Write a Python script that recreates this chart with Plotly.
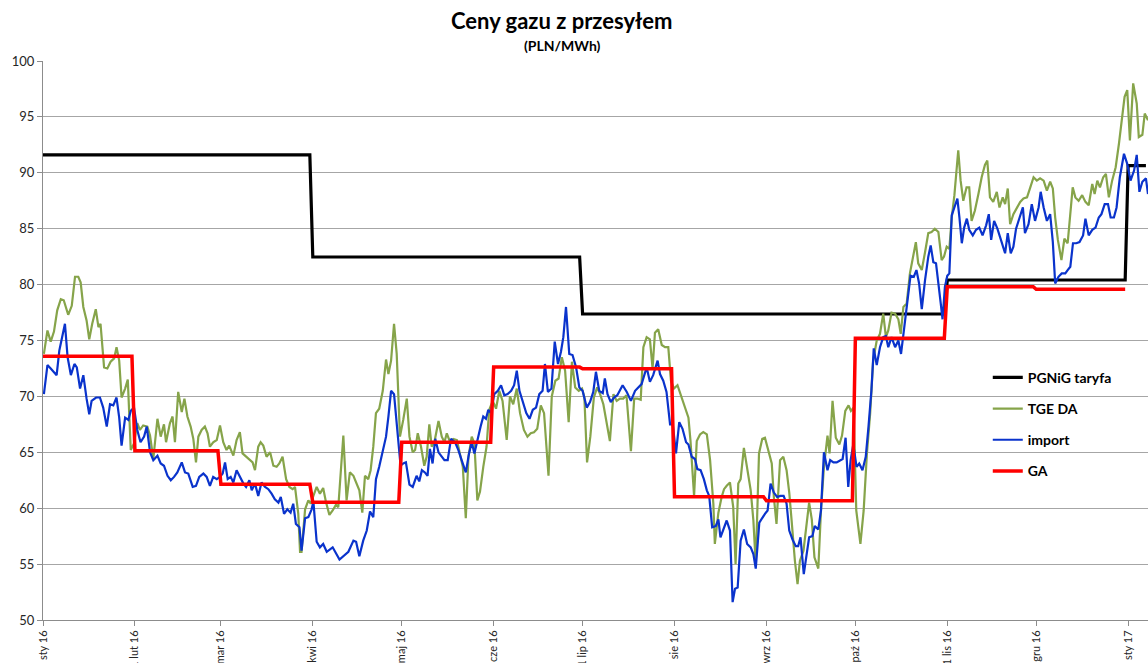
import numpy as np
import pandas as pd
import plotly.graph_objects as go

BASE = pd.Timestamp("2016-01-01")

# ---- month ticks ----
tick_dates = ["2016-01-01", "2016-02-01", "2016-03-01", "2016-04-01", "2016-05-01", "2016-06-01",
              "2016-07-01", "2016-08-01", "2016-09-01", "2016-10-01", "2016-11-01", "2016-12-01",
              "2017-01-01"]
tick_labels = ["1 sty 16", "1 lut 16", "1 mar 16", "1 kwi 16", "1 maj 16", "1 cze 16",
               "1 lip 16", "1 sie 16", "1 wrz 16", "1 paź 16", "1 lis 16", "1 gru 16",
               "1 sty 17"]

# ---- step series (period start = day offset from 1 Jan 2016) ----
pgnig_start = [0, 91, 182, 305, 366]
pgnig_val = [91.6, 82.47, 77.37, 80.41, 90.64]
pgnig_last_day = 372

ga_start = [0, 31, 60, 91, 121, 152, 182, 213, 244, 274, 305, 335]
ga_val = [73.6, 65.14, 62.14, 60.53, 65.9, 72.62, 72.47, 61.03, 60.67, 75.2, 79.81, 79.58]
ga_last_day = 365

# ---- daily series (day offset, value) ----
tge_day = [0.3, 1.5, 2.6, 3.7, 4.8, 6.0, 7.0, 8.5, 9.7, 10.8, 11.9, 12.7, 13.6, 14.7, 15.6, 16.6, 17.8,
           18.7, 19.4, 20.6, 21.7, 22.8, 24.0, 24.8, 25.7, 26.5, 27.7, 28.6, 29.6, 30.7, 31.8, 32.7,
           33.8, 35.2, 36.1, 37.2, 38.6, 39.7, 40.8, 41.5, 42.8, 43.7, 44.5, 45.6, 46.8, 47.7, 48.7,
           49.8, 50.7, 51.6, 52.4, 53.5, 54.6, 55.5, 56.3, 57.4, 58.6, 59.7, 60.8, 61.9, 62.8, 64.2,
           65.3, 66.4, 67.3, 68.5, 69.6, 70.7, 71.5, 72.6, 73.4, 74.3, 75.4, 76.6, 77.7, 78.8, 79.7,
           80.8, 82.0, 83.1, 84.2, 85.0, 86.1, 86.7, 87.2, 88.4, 89.5, 90.3, 91.2, 92.3,
           93.4, 94.5, 95.4, 96.6, 97.7, 98.8, 99.6, 101.3, 102.4, 103.5, 104.7, 105.8, 106.7, 107.7,
           108.6, 109.7, 110.5, 111.4, 112.3, 113.4, 114.6, 115.7, 116.5, 117.4, 118.4, 119.3, 120.4,
           121.5, 122.7, 123.6, 124.7, 125.5, 126.4, 127.5, 128.6, 129.4, 130.3, 131.1, 132.0, 133.4,
           134.5, 135.4, 136.2, 137.3, 138.4, 139.6, 140.7, 141.6, 142.6, 143.5, 144.6, 145.5, 146.5,
           147.4, 148.5, 149.6, 150.5, 151.7, 152.8, 153.9, 155.0, 156.4, 157.5, 158.6, 159.8, 160.9,
           162.2, 163.4, 164.5, 165.6, 166.7, 167.9, 169.0, 170.5, 171.6, 172.8, 173.9, 175.0, 176.1,
           177.3, 178.4, 179.5, 180.7, 181.8, 182.6, 183.5, 184.6, 185.8, 186.9,
           187.9, 189.0, 190.1, 191.2, 192.4, 193.5, 194.6, 195.7, 196.8, 198.3, 199.4, 200.6, 201.6,
           202.5, 203.6, 204.7, 205.6, 206.4, 207.5, 208.7, 209.8, 210.9, 211.8, 212.8, 214.0, 215.1,
           216.2, 217.7, 218.4, 219.6, 220.5, 221.6, 222.7, 223.9, 225.0, 226.1, 226.6, 227.8, 228.9,
           229.7, 230.6, 231.7, 232.8, 233.6, 234.5, 235.3, 236.4, 237.5, 238.7, 239.6, 240.4, 241.5,
           242.6, 243.5, 244.6, 245.8, 246.5, 247.4, 248.6, 249.7, 250.8, 251.7, 252.5, 253.6, 254.5,
           255.3, 256.5, 257.4, 258.4, 259.3, 260.2, 261.5, 262.4, 263.4, 264.6, 265.3, 266.3, 267.4,
           268.6, 269.5, 270.6, 271.7, 272.5, 273.4, 274.3, 275.7, 276.8, 277.9, 279.0,
           280.0, 281.2, 282.3, 283.4, 284.3, 285.1, 286.2, 287.4, 288.5, 289.3, 290.2, 291.3, 292.4,
           293.6, 294.4, 295.2, 296.4, 297.5, 298.6, 299.7, 300.8, 302.0, 303.1, 303.9, 304.8, 305.7,
           306.5, 307.4, 308.7, 309.5, 310.4, 311.5, 312.4, 313.2, 314.3, 315.5, 316.6, 317.7, 318.5,
           319.4, 320.5, 321.7, 322.6, 323.7, 324.5, 325.4, 326.2, 327.3, 328.5, 329.6, 330.7, 331.9,
           333.0, 334.1, 335.2, 336.3, 337.5, 338.6, 339.7, 340.6, 341.4, 342.3, 343.5, 344.5, 345.6,
           346.5, 347.3, 348.2, 349.3, 350.5, 351.6, 352.7, 353.9, 354.7, 355.6, 356.5, 357.6, 358.5,
           359.5, 360.6, 361.8, 362.9, 364.0, 364.8, 365.7, 366.6, 367.7, 368.9, 369.6, 370.8, 371.6,
           372.7]
tge_val = [73.8, 75.9, 74.9, 75.8, 77.7, 78.7, 78.6, 77.3, 78.1, 80.7, 80.7, 80.2, 78.0, 76.8, 75.1, 76.5, 77.8,
           76.2, 76.5, 72.6, 72.5, 73.1, 73.4, 74.4, 73.2, 69.9, 70.7, 71.5, 65.2, 65.8, 67.6, 67.0,
           67.4, 67.3, 66.5, 64.4, 68.0, 66.4, 67.5, 65.9, 67.6, 68.2, 65.9, 70.4, 68.6, 69.8, 68.2,
           67.3, 66.2, 64.1, 66.4, 67.0, 67.3, 66.7, 65.5, 65.9, 66.1, 67.4, 65.9, 65.2, 65.6, 64.7,
           66.1, 66.8, 64.9, 64.6, 64.4, 64.1, 63.4, 65.5, 65.9, 65.6, 64.6, 65.0, 63.8, 63.7, 64.0,
           64.6, 62.6, 61.9, 61.7, 61.9, 59.5, 56.1, 56.1, 59.9, 60.7, 60.4, 61.1, 61.9,
           61.3, 61.8, 60.6, 59.4, 59.8, 60.3, 60.1, 66.5, 60.7, 63.2, 62.9, 62.2, 61.6, 59.6,
           62.9, 62.6, 63.4, 65.5, 68.5, 68.9, 70.5, 73.3, 72.0, 73.2, 76.5, 73.8, 66.4,
           67.9, 69.8, 66.4, 65.0, 65.2, 66.7, 65.5, 63.8, 64.6, 67.5, 65.5, 65.9, 67.8,
           66.4, 65.9, 66.7, 65.9, 66.2, 66.1, 64.9, 63.7, 59.1, 64.6, 66.4, 65.8, 60.7,
           61.5, 63.7, 65.5, 68.8, 69.6, 68.9, 70.5, 69.6, 66.1, 70.0, 69.3, 70.7, 68.5,
           67.0, 66.4, 66.7, 66.8, 67.1, 69.2, 68.5, 62.9, 70.0, 71.4, 71.6, 73.5, 72.3,
           67.7, 73.1, 70.8, 70.5, 70.7, 69.9, 64.1, 66.4, 69.9, 70.8,
           70.2, 69.3, 67.8, 66.0, 70.2, 69.6, 69.8, 69.8, 70.1, 65.1, 69.8, 69.8, 69.7,
           74.4, 75.3, 75.1, 72.5, 75.7, 76.0, 74.6, 74.4, 74.4, 71.4, 70.7, 71.0, 70.1,
           69.3, 68.1, 66.0, 61.1, 66.0, 66.6, 66.8, 66.6, 64.3, 60.4, 56.8, 59.6, 61.0,
           61.7, 62.0, 62.3, 60.1, 55.0, 62.2, 62.6, 65.4, 63.7, 61.6, 58.9, 55.0, 64.9,
           66.2, 66.3, 65.1, 64.0, 61.0, 58.6, 64.3, 64.6, 63.4, 61.4, 58.9, 55.3, 53.2,
           55.3, 56.2, 58.3, 60.5, 59.0, 55.6, 54.6, 59.8, 63.7, 66.5, 64.9, 69.6, 66.3,
           65.7, 66.5, 68.7, 69.2, 68.7, 69.0, 59.8, 56.8, 59.8, 64.9, 68.5,
           73.2, 75.0, 75.6, 77.4, 75.3, 75.9, 77.5, 77.4, 76.9, 75.6, 78.0, 78.3, 81.0,
           82.8, 83.8, 81.9, 81.3, 82.9, 84.6, 84.7, 85.0, 84.7, 82.2, 82.5, 83.4, 83.2,
           86.0, 88.0, 92.0, 89.3, 87.5, 88.7, 88.7, 85.7, 86.6, 88.1, 89.6, 90.7, 91.1,
           87.8, 87.4, 88.3, 86.9, 87.8, 87.2, 88.6, 85.4, 86.3, 86.9, 87.4, 87.7, 87.8,
           88.7, 89.6, 89.3, 89.5, 89.3, 88.4, 89.2, 88.6, 86.0, 84.0, 82.2, 84.1, 83.7,
           86.6, 88.7, 87.8, 87.5, 88.0, 87.4, 87.1, 89.0, 88.1, 89.3, 88.7, 89.6, 89.9,
           87.8, 89.3, 90.5, 92.6, 95.0, 96.8, 97.4, 92.9, 98.0, 96.2, 93.2, 93.4, 95.3,
           94.7]

import_day = [0.3, 1.5, 2.6, 3.7, 4.6, 5.5, 6.5, 7.4, 8.3, 9.4, 10.6, 11.4, 12.5, 13.6, 14.7, 15.6, 16.4,
              17.9, 19.2, 20.3, 21.5, 22.6, 23.7, 24.8, 25.7, 26.5, 27.7, 28.8, 29.6, 30.7, 31.8, 32.9,
              34.1, 35.0, 36.1, 37.2, 38.6, 39.7, 40.8, 42.0, 43.1, 44.2, 45.3, 46.8, 47.9, 49.0, 50.5,
              51.6, 52.7, 54.1, 55.2, 56.3, 57.4, 58.6, 59.7, 60.6, 61.4, 62.3, 63.3, 64.2, 65.3, 66.4,
              67.6, 68.5, 69.6, 70.4, 71.5, 72.6, 73.7, 74.9, 76.0, 77.1, 78.2, 79.4, 80.2, 81.3, 82.4,
              83.5, 84.4, 85.3, 86.5, 87.2, 88.4, 89.5, 90.6, 91.2, 92.3, 93.4, 94.5, 95.7, 97.7, 100.0,
              101.3, 103.0, 104.7, 105.6, 106.7, 108.0, 109.2, 110.3, 111.4, 112.3, 113.4, 114.6, 115.7,
              116.5, 117.4, 118.4, 119.5, 120.6, 121.5, 122.4, 123.6, 124.7, 126.0, 126.9, 127.8, 128.8,
              129.7, 130.5, 131.4, 132.3, 133.4, 134.4, 135.4, 136.5, 137.6, 139.0, 140.1, 141.2, 142.6,
              143.7, 144.6, 145.5, 146.5, 147.6, 148.5, 149.4, 150.2, 151.1, 152.2, 153.4, 154.5, 155.6,
              156.7, 157.9, 158.9, 159.8, 160.7, 161.8, 163.0, 164.1, 165.2, 166.3, 167.4, 168.5, 169.3,
              170.3, 171.5, 172.6, 173.7, 174.7, 175.5, 176.4, 177.5, 178.6, 179.8, 180.9, 182.0, 183.4,
              184.5, 185.6, 186.5, 187.6, 188.8, 189.5, 190.4, 191.5, 192.6, 193.7, 195.5, 196.9, 198.3,
              199.7, 200.8, 201.9, 203.6, 204.7, 205.8, 207.3, 208.1, 209.2, 210.3, 211.5, 212.4, 213.5,
              214.6, 215.7, 216.9, 217.7, 218.8, 219.9, 220.7, 221.8, 222.9, 223.9, 224.7, 225.7, 226.9,
              227.8, 228.5, 229.5, 230.6, 231.7, 232.6, 233.4, 234.3, 235.3, 236.4, 237.5, 238.7, 239.6,
              240.4, 241.6, 242.7, 243.5, 244.4, 245.4, 246.5, 247.6, 248.7, 249.8, 250.8, 251.7, 252.8,
              253.9, 254.7, 255.5, 256.6, 257.5, 258.4, 259.5, 260.3, 261.5, 262.4, 263.4, 264.6, 265.5,
              266.6, 267.7, 268.8, 269.7, 270.7, 271.6, 272.4, 273.3, 274.4, 275.3, 276.4, 277.5, 278.4,
              279.4, 280.2, 281.2, 282.3, 283.4, 284.3, 285.1, 286.2, 287.4, 288.5, 289.4, 290.5, 291.5,
              292.6, 293.7, 294.6, 295.5, 296.4, 297.5, 298.6, 299.4, 300.3, 301.2, 302.1, 302.8, 303.4,
              304.2, 305.0, 305.7, 306.5, 307.4, 308.4, 309.1, 309.9, 310.7, 311.6, 312.4, 313.6, 314.7,
              315.8, 316.9, 318.1, 319.0, 319.8, 320.8, 321.9, 323.1, 324.5, 325.4, 326.4, 327.3, 328.2,
              329.4, 330.5, 331.2, 332.4, 333.5, 334.6, 335.8, 336.5, 337.5, 338.6, 339.7, 340.6, 341.4,
              342.5, 343.6, 344.8, 345.6, 346.5, 347.4, 348.5, 349.6, 350.8, 351.6, 352.7, 353.9, 355.0,
              356.1, 357.0, 358.1, 359.2, 360.1, 361.2, 362.1, 363.2, 364.6, 365.7, 366.8, 368.0, 368.9,
              369.8, 370.8, 372.0, 372.7]
import_val = [70.2, 72.8, 72.5, 72.2, 71.9, 74.1, 75.3, 76.5, 73.5, 71.9, 72.9, 72.6, 70.7, 71.9, 69.8, 68.4, 69.6,
              69.9, 69.9, 69.0, 67.3, 69.3, 69.2, 69.9, 68.1, 65.6, 68.1, 67.9, 68.7, 69.0, 67.0, 65.9,
              66.4, 67.3, 65.0, 64.3, 64.7, 64.0, 63.8, 62.9, 62.5, 62.8, 63.2, 64.1, 63.2, 63.1, 61.9,
              62.0, 62.8, 63.1, 62.8, 62.0, 62.8, 62.6, 62.8, 63.1, 64.1, 62.6, 62.8, 62.3, 63.4, 62.8,
              62.2, 61.9, 62.5, 61.6, 62.2, 61.1, 62.3, 61.9, 61.7, 61.3, 60.8, 60.5, 61.0, 59.5, 59.9,
              59.6, 60.4, 58.6, 58.3, 56.2, 59.1, 59.2, 59.9, 60.6, 57.0, 56.5, 56.8, 56.1, 56.5, 55.4,
              55.7, 56.1, 57.1, 57.0, 55.7, 57.1, 58.0, 59.7, 59.2, 62.6, 63.7, 65.2, 66.4,
              68.2, 70.5, 70.2, 67.0, 63.8, 64.0, 64.1, 62.1, 61.9, 62.9, 62.4, 63.4, 63.2,
              62.9, 65.3, 64.0, 66.2, 65.0, 64.6, 64.3, 64.3, 66.2, 65.9, 65.2, 64.3, 63.2,
              64.9, 65.9, 64.9, 66.2, 67.3, 68.2, 68.0, 68.8, 68.5, 70.2, 70.5, 71.0, 70.1,
              70.2, 70.5, 71.0, 72.3, 70.5, 69.6, 68.5, 68.0, 68.8, 69.0, 70.2, 70.5, 72.9,
              70.4, 70.7, 74.9, 72.9, 74.0, 75.3, 78.0, 73.8, 73.7, 72.6, 70.8, 70.5, 69.0,
              69.5, 70.4, 72.2, 70.5, 70.3, 71.6, 70.2, 69.5, 69.9, 70.1, 71.0, 70.4, 69.6,
              70.5, 70.8, 71.1, 72.6, 71.3, 71.9, 73.2, 72.0, 71.4, 70.4, 67.5, 67.5, 64.9,
              67.7, 67.1, 65.9, 65.7, 64.6, 64.4, 63.5, 63.4, 62.6, 61.6, 61.1, 58.3, 58.4,
              59.0, 57.4, 58.1, 58.9, 58.0, 51.6, 52.8, 52.9, 57.1, 58.1, 56.8, 56.5, 55.9,
              54.6, 58.7, 59.2, 59.5, 59.8, 62.2, 61.4, 61.0, 61.1, 61.1, 60.4, 58.0, 57.2,
              56.6, 56.6, 57.4, 54.1, 55.9, 57.4, 57.5, 58.4, 58.1, 59.8, 65.0, 63.4, 64.3,
              64.1, 64.1, 64.3, 64.4, 66.3, 61.9, 64.3, 65.7, 63.7, 64.0, 63.4, 64.6, 67.2,
              70.5, 74.3, 72.8, 74.4, 75.3, 75.4, 74.4, 75.3, 74.4, 75.0, 73.8, 76.2, 78.3,
              80.8, 80.7, 81.3, 80.1, 77.8, 80.4, 82.5, 83.5, 82.0, 81.9, 80.1, 78.3, 76.9,
              79.8, 80.8, 81.0, 86.2, 86.9, 87.7, 86.0, 83.7, 85.1, 85.9, 84.9, 84.4, 84.9,
              85.1, 84.4, 85.3, 86.3, 84.0, 85.7, 85.0, 84.0, 82.8, 84.6, 82.8, 83.4, 85.0,
              86.0, 86.9, 84.6, 85.4, 87.2, 85.7, 86.9, 88.3, 86.9, 85.7, 86.3, 83.8, 80.1,
              80.7, 81.0, 81.0, 81.3, 81.6, 83.7, 83.7, 83.8, 84.4, 85.9, 84.4, 84.9, 85.1,
              86.0, 86.3, 87.2, 87.2, 86.0, 86.0, 86.9, 89.6, 91.7, 90.8, 89.3, 90.2, 91.6,
              88.3, 89.2, 89.5, 88.1]


def to_dates(days):
    return BASE + pd.to_timedelta(np.asarray(days, dtype=float), unit="D")


def step_points(starts, vals, last_day):
    xs, ys = [], []
    for i, (s, v) in enumerate(zip(starts, vals)):
        e = starts[i + 1] - 1 if i + 1 < len(starts) else last_day
        xs += [s, e]
        ys += [v, v]
    return to_dates(xs), ys


px_pg, py_pg = step_points(pgnig_start, pgnig_val, pgnig_last_day)
px_ga, py_ga = step_points(ga_start, ga_val, ga_last_day)

FONT = "Lato"
fig = go.Figure()
fig.add_trace(go.Scatter(x=px_pg, y=py_pg, mode="lines", name="PGNiG taryfa", legendgroup="a",
                         line=dict(color="#000000", width=3.2)))
fig.add_trace(go.Scatter(x=to_dates(tge_day), y=tge_val, mode="lines", name="TGE DA", legendgroup="b",
                         line=dict(color="#86a44a", width=2.2)))
fig.add_trace(go.Scatter(x=to_dates(import_day), y=import_val, mode="lines", name="import", legendgroup="c",
                         line=dict(color="#0a33cc", width=2.2)))
fig.add_trace(go.Scatter(x=px_ga, y=py_ga, mode="lines", name="GA", legendgroup="d",
                         line=dict(color="#ff0000", width=3.5)))

fig.update_layout(
    width=1148, height=663,
    margin=dict(l=43, r=0, t=61, b=43),
    plot_bgcolor="white", paper_bgcolor="white",
    font=dict(family=FONT, color="#262626"),
    showlegend=True,
    legend=dict(x=0.855, y=0.462, xanchor="left", yanchor="top", bgcolor="rgba(0,0,0,0)",
                font=dict(family=FONT, size=14, color="#000000", weight="bold"), tracegroupgap=10,
                traceorder="grouped"),
    annotations=[
        dict(text="<b>Ceny gazu z przesyłem</b>", xref="paper", yref="paper", x=0.470, y=1.073,
             showarrow=False, font=dict(family=FONT, size=22, color="#000000"),
             xanchor="center", yanchor="middle"),
        dict(text="<b>(PLN/MWh)</b>", xref="paper", yref="paper", x=0.470, y=1.028,
             showarrow=False, font=dict(family=FONT, size=14, color="#000000"),
             xanchor="center", yanchor="middle"),
    ],
)
fig.update_xaxes(
    type="date",
    range=[BASE, BASE + pd.Timedelta(days=372.7)],
    tickmode="array", tickvals=tick_dates, ticktext=tick_labels,
    tickangle=-90, tickfont=dict(size=11, color="#262626"),
    showgrid=False, showline=True, linecolor="#8c8c8c", linewidth=1,
    ticks="outside", ticklen=5, tickcolor="#8c8c8c", automargin=False, zeroline=False,
)
fig.update_yaxes(
    range=[50, 100], dtick=5, tick0=50,
    showgrid=True, gridcolor="#a6a6a6", gridwidth=1,
    showline=True, linecolor="#8c8c8c", linewidth=1,
    ticks="outside", ticklen=5, tickcolor="#8c8c8c",
    tickfont=dict(size=13, color="#262626"), automargin=False, zeroline=False,
)

fig.write_html("out.html", config={"displayModeBar": False},
               post_script="document.body.style.margin='0';")
